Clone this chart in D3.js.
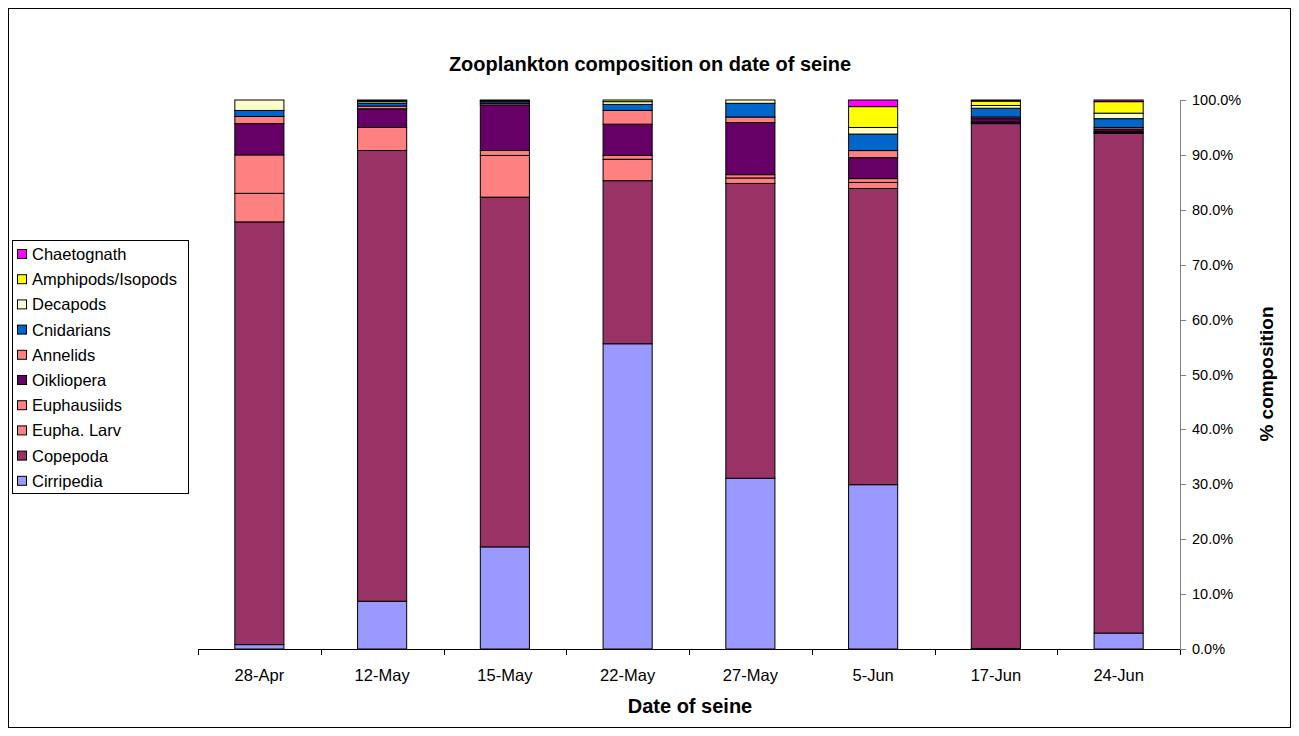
<!DOCTYPE html>
<html><head><meta charset="utf-8">
<script src="https://cdn.jsdelivr.net/npm/d3@7"></script>
<style>
body{margin:0;background:#fff;}
svg{display:block;font-family:"Liberation Sans",Arial,sans-serif;}
</style></head>
<body><svg id="c" width="1299" height="736"></svg>
<script>
const dates = ["28-Apr","12-May","15-May","22-May","27-May","5-Jun","17-Jun","24-Jun"];
const seriesNames = ["Cirripedia","Copepoda","Eupha. Larv","Euphausiids","Oikliopera","Annelids","Cnidarians","Decapods","Amphipods/Isopods","Chaetognath"];
const seriesColors = ["#9999FF","#993366","#FF8080","#FF8080","#660066","#FF8080","#0066CC","#FFFFCC","#FFFF00","#FF00FF"];
const cirripedia  = [0.8, 8.7, 18.6, 55.6, 31.1, 29.9, 0.1, 2.9];
const copepoda    = [77.0, 82.1, 63.7, 29.7, 53.7, 53.9, 95.6, 91.0];
const euphaLarv   = [5.2, 0.0, 7.6, 3.9, 1.0, 1.1, 0.1, 0.2];
const euphausiids = [7.0, 4.2, 0.9, 0.7, 0.6, 0.7, 0.2, 0.2];
const oikliopera  = [5.7, 3.4, 8.3, 5.7, 9.5, 3.8, 0.6, 0.4];
const annelids    = [1.3, 0.5, 0.3, 2.5, 1.0, 1.3, 0.3, 0.3];
const cnidarians  = [1.1, 0.5, 0.3, 1.1, 2.5, 3.0, 1.6, 1.6];
const decapods    = [1.9, 0.3, 0.2, 0.5, 0.6, 1.2, 0.5, 1.0];
const amphipods   = [0.0, 0.2, 0.1, 0.3, 0.0, 3.8, 0.8, 2.1];
const chaetognath = [0.0, 0.1, 0.0, 0.0, 0.0, 1.2, 0.2, 0.3];
const yTicks = [0,10,20,30,40,50,60,70,80,90,100];

const values = [cirripedia,copepoda,euphaLarv,euphausiids,oikliopera,annelids,cnidarians,decapods,amphipods,chaetognath];
const rows = dates.map((d,i)=>{const r={date:d}; seriesNames.forEach((s,j)=>r[s]=values[j][i]); return r;});
const stacked = d3.stack().keys(seriesNames).offset(d3.stackOffsetExpand)(rows);

const svg = d3.select("#c");
svg.append("rect").attr("x",8.5).attr("y",8.5).attr("width",1282).attr("height",719)
  .attr("fill","#fff").attr("stroke","#000").attr("stroke-width",1);

const L=198, R=1180, T=100, B=649;
const x = d3.scaleBand().domain(dates).range([L,R]).paddingInner(0.6).paddingOuter(0.3);
const xb = d3.scaleBand().domain(dates).range([L,R]);
const y = d3.scaleLinear().domain([0,1]).range([B,T]);

svg.append("g").selectAll("g").data(stacked).join("g")
  .attr("fill",(d,i)=>seriesColors[i])
  .selectAll("rect").data(d=>d).join("rect")
  .attr("x",d=>x(d.data.date)).attr("width",x.bandwidth())
  .attr("y",d=>y(d[1])).attr("height",d=>Math.max(0,y(d[0])-y(d[1])))
  .attr("stroke","#000").attr("stroke-width",1);

// x axis
const gx = svg.append("g");
gx.append("line").attr("x1",L).attr("x2",R).attr("y1",B+0.5).attr("y2",B+0.5).attr("stroke","#000");
const bounds = dates.map(d=>xb(d)).concat([R]);
gx.selectAll("line.t").data(bounds).join("line").attr("class","t")
  .attr("x1",d=>Math.round(d)+0.5).attr("x2",d=>Math.round(d)+0.5).attr("y1",B).attr("y2",B+6).attr("stroke","#000");
gx.selectAll("text").data(dates).join("text")
  .attr("x",d=>xb(d)+xb.bandwidth()/2).attr("y",681).attr("text-anchor","middle")
  .attr("font-size",16.5).text(d=>d);

// y axis (right)
const gy = svg.append("g");
gy.append("line").attr("x1",R+0.5).attr("x2",R+0.5).attr("y1",T).attr("y2",B).attr("stroke","#808080");
gy.selectAll("line.t").data(yTicks).join("line").attr("class","t")
  .attr("x1",R).attr("x2",R+6).attr("y1",d=>Math.round(y(d/100))+0.5).attr("y2",d=>Math.round(y(d/100))+0.5).attr("stroke","#808080");
gy.selectAll("text").data(yTicks).join("text")
  .attr("x",1192).attr("y",d=>y(d/100)+5).attr("font-size",14.5).text(d=>d.toFixed(1)+"%");

svg.append("text").attr("x",650).attr("y",71).attr("text-anchor","middle")
  .attr("font-size",20).attr("font-weight","bold").text("Zooplankton composition on date of seine");
svg.append("text").attr("x",690).attr("y",713).attr("text-anchor","middle")
  .attr("font-size",20).attr("font-weight","bold").text("Date of seine");
svg.append("text").attr("transform","translate(1273,374) rotate(-90)").attr("text-anchor","middle")
  .attr("font-size",19).attr("font-weight","bold").text("% composition");

// legend
const lg = svg.append("g");
lg.append("rect").attr("x",12.5).attr("y",240.5).attr("width",176).attr("height",253).attr("fill","#fff").attr("stroke","#000");
const legOrder = seriesNames.map((s,i)=>({s,c:seriesColors[i]})).reverse();
const li = lg.selectAll("g").data(legOrder).join("g").attr("transform",(d,i)=>`translate(0,${254+i*25.2})`);
li.append("rect").attr("x",17.5).attr("y",-4.5).attr("width",9).attr("height",9).attr("fill",d=>d.c).attr("stroke","#000");
li.append("text").attr("x",32).attr("y",6).attr("font-size",16.5).text(d=>d.s);
</script></body></html>
